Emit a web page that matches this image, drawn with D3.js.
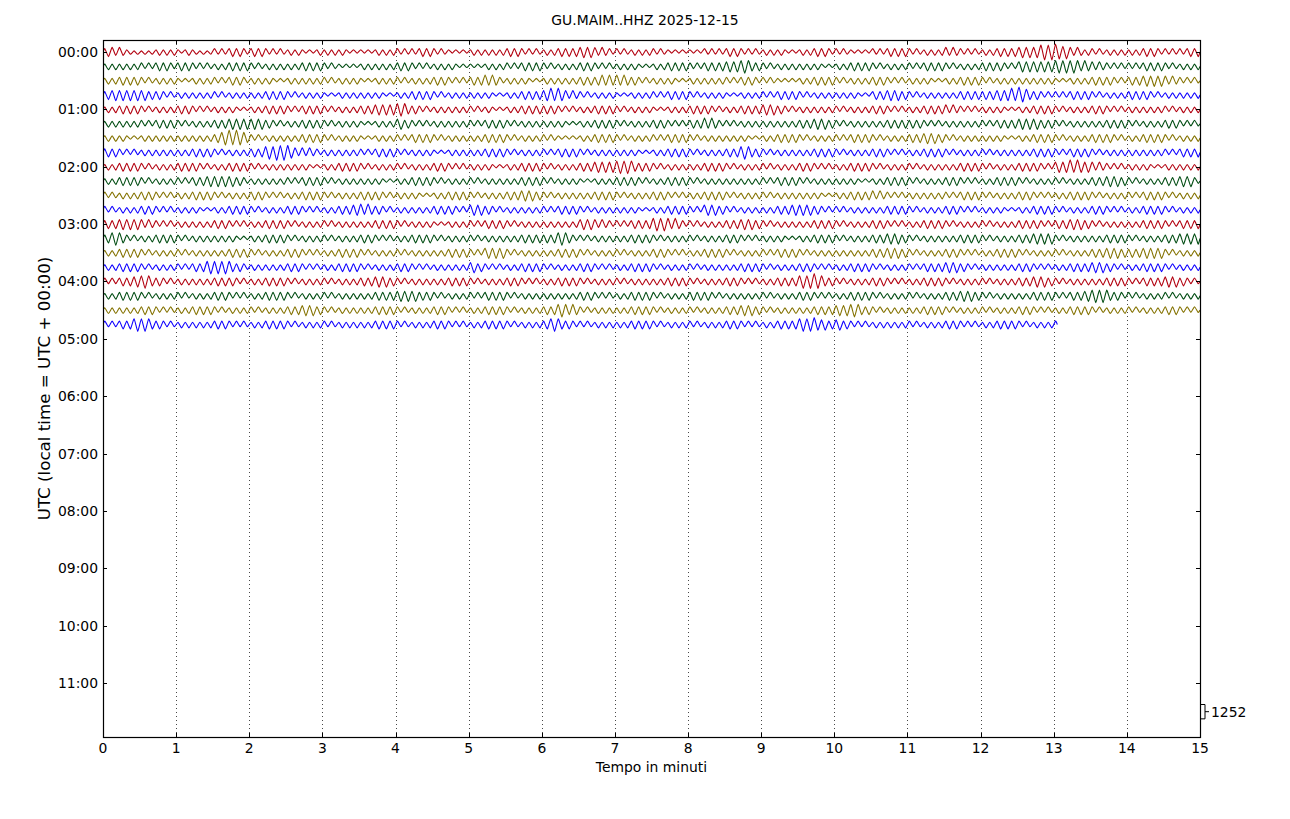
<!DOCTYPE html>
<html><head><meta charset="utf-8">
<script src="https://cdn.jsdelivr.net/npm/d3@7"></script>
<style>
body{margin:0;background:#fff}
svg{display:block}
text{font-family:"DejaVu Sans",sans-serif;fill:#000}
</style>
</head><body>
<svg id="chart" width="1290" height="819"></svg>
<script>
// ---------------- DATA ----------------
const chartTitle = "GU.MAIM..HHZ 2025-12-15";
const xLabel = "Tempo in minuti";
const yLabel = "UTC (local time = UTC + 00:00)";
const xTickLabels = ["0","1","2","3","4","5","6","7","8","9","10","11","12","13","14","15"];
const hourLabels = ["00:00","01:00","02:00","03:00","04:00","05:00","06:00","07:00","08:00","09:00","10:00","11:00"];
const traceStartMinutes = [0,15,30,45,60,75,90,105,120,135,150,165,180,195,210,225,240,255,270,285];
const traceEndMinute = [15,15,15,15,15,15,15,15,15,15,15,15,15,15,15,15,15,15,15,13.05];
const scaleBarCounts = 1252;
const peakUnitCounts = 100;   // each digit = successive alternating peak amplitude, in 100 counts
const traceAmps = [
"3443432212 1212232323 2123221212 3232343432 3434323232 2323212123 2323232121 2121232323 3232323434 3232212121 2323232323 3434323232 2323343434 4545434332 3232232323 3232212121 2121323232 3434323232 2323232121 2323343432 3232212121 3232343434 3232232323 4343323232 2323343434 4545456767 7656434323 3232232323 2323343432 3232323434",
"2323232323 3232343432 3434323232 2323343434 3232232323 2323343434 3232212121 2323232323 3434323232 2323232121 2121232323 3232343434 3232232323 3434323232 2323232121 2323343434 3232343434 4545565434 3232232323 2323232121 2323343434 3232232323 3232343434 3232232323 3434343232 4545454545 5656565454 4343323232 3232343434 3232232323",
"2323343434 3232232323 2121232323 3232343432 2323232121 2323232323 3232232323 2121232323 3232232323 3434323232 3434545432 2323232121 2323232323 3434345454 5454343232 2323232121 2323232323 3232343432 3232212121 2323343434 3232232323 3434323232 2323232121 2323343434 3232232323 2323232323 2121232323 3434343232 3434454545 4343323232",
"3445454545 4534343232 2323232323 3232232323 2323343434 3232232323 2121232323 2323232121 2323343434 3232232323 2323232121 2323343434 4565654343 3232232323 2121232323 3232343434 3232232323 2121232323 3232343434 3232232323 2323232121 3434454534 3232232323 2323343434 3434454565 7654343232 3232343434 3232232323 3434343232 2323232323",
"2323343434 3232232323 3434323232 2323232121 2323343434 3232343434 3232232323 3434454545 5654343232 2323232323 3232232121 2323343434 3434323232 2323343434 3232232323 2121232323 3434343232 2323343434 4545343232 2323232323 3232232323 3434323232 2323343434 4343323232 2323232121 2323343434 3232232323 3434323232 2323232323 3232232323",
"2323232323 3232343434 3232232323 3434454545 4545343232 2323343434 3232232323 2121232323 4534323232 2323232323 3232343434 3232232323 2323232121 2323343434 3232232323 3434323232 3434545432 3232232323 2323232323 3434454534 3232232323 2323343434 3434323232 2323232323 3232343434 4545453434 3232232323 2323343434 3232232323 3434323232",
"2323232121 2323232323 2323232323 3456767654 3232232323 2323343434 3232232323 2121232323 3232343434 3232232323 2323343434 3232232323 3232212121 2323343434 3232232323 3232343434 3232232323 2323232121 2323343434 3232232323 3232343434 3232232323 3434454534 3232232323 2323232121 2323343434 3232232323 3434343232 2323343434 3232232323",
"3434323232 2323232323 2323343434 3232232323 3434565767 6543434332 2323232323 3232343434 3232232323 2121232323 2323343434 3232232323 3232343434 3232232323 2323232121 2323343434 3232232323 3434565434 3232232323 2323343434 3232232323 3434323232 2323343434 3232232323 3232232323 2323343434 3232343434 3232232323 2323232323 3232343434",
"2323343434 3232232323 3434343232 2323343434 3232232323 2323232121 2323343434 3232232323 3232232323 3434323232 2323232121 2323343434 3232232323 3434454545 5656543434 3232232323 2323343434 3232232323 3232232323 3434323232 2323343434 3232232323 3232232323 2323343434 3232232323 3434343232 4545656545 4343323232 2323232121 2323232323",
"2323343434 3232232323 3232343445 4545453432 2323232323 3232343434 3232232323 2323232121 2323343434 3232232323 3232232323 2323343434 3232232323 2121232323 3434343232 2323343434 3232232323 2323232323 3232343434 3232232323 2323232121 2323343434 3232232323 3434323232 2323343434 3232232323 3232232323 3434454534 3232232323 3434454532",
"3232232323 3434323232 2323343434 3232232323 3434323232 2323343434 3232232323 3434343232 2323232121 2323343434 3232232323 3434454534 3232232323 2323343434 3232232323 3434323232 2323343434 3232232323 3232232323 2323232121 2323343434 4343323232 2323232323 3232343434 3232232323 3434323232 2323343434 3232232323 3232343434 3232232323",
"3232232323 3434323232 2323232121 2323343434 3232232323 3434323232 2323343445 5454343232 2323232323 3434343232 4545343232 2323232323 3232343434 3232232323 2323232121 2323343434 3232454534 3232232323 2323343445 4545343232 3232232323 2323343434 3232232323 3434323232 2323232121 2323343434 3232232323 3434323232 2323343434 3232232323",
"3434454545 4343323232 2323232323 3434323232 2323343434 3232232323 3232232323 2323343434 3232232323 2121232323 3232343434 3232232323 2323232323 4545434332 3232343434 5656545432 3232232323 3434454534 3232232323 2323343434 3232232323 3434323232 2323343434 3232232323 3232232323 3434343232 3434454534 3232232323 2323343434 3232343434",
"3456543232 2323343434 3232232323 2323232121 2323343434 3232232323 3232232323 3434323232 2323343434 3232232323 3232232323 2323343434 3434565432 3232232323 2323343434 3232232323 3232232323 3434323232 2323232121 2323343434 3232232323 3434454534 3232232323 2323343434 3232232323 3434454545 3232232323 2323343434 3232232323 3434454545",
"2323343434 3232232323 3232232323 2323343434 3232232323 3434323232 2323343434 3232232323 3232232323 2323343434 3232454545 3232232323 2323343434 3232232323 3232232323 3434323232 2323343434 3232232323 3232343434 3232232323 2323232323 3434454534 3232232323 3434323232 2323343434 3232232323 3232232323 3434454534 3434454545 3232232323",
"2323343434 3232232323 3232343456 5656543432 2323232323 3434323232 2323343434 3232232323 3434323232 2323232323 4534323232 2323343434 3232232323 3434323232 2323343434 3232232323 3232232323 2323343434 3232232323 3434323232 2323343434 3232232323 3232343434 4545343232 2323232323 3434323232 2323343434 4545343232 2323343434 3232232323",
"3232343445 5654343232 2323232323 3434343232 2323343434 3232232323 3232232323 3434454534 3232232323 2323343434 3232232323 3434323232 2323343434 3232232323 3232232323 2323343434 3232232323 3434323232 2323343434 5656765434 3232232323 3434323232 2323343434 3232232323 3232232323 3434454534 3232232323 2323343434 3232343434 4545343232",
"2323343434 3232232323 3232232323 3434323232 2323343434 3232232323 3232232323 2323343434 4545453434 3232232323 3232343434 3232232323 2323232323 3434323232 2323343434 3232232323 3434343232 2323232323 3232232323 3434323232 2323343434 3232232323 3232232323 3434454534 3232232323 2323343434 3232343445 5656543432 3232232323 3232232323",
"2323232323 3434323232 2323343434 3232232323 3232232323 3434454534 3232232323 2323343434 3232232323 3434323232 2323343434 3232232323 3434565454 3232232323 2323343434 3232232323 3232232323 3434454534 3232232323 2323343434 4545565434 3232232323 2323343434 3232232323 3232232323 3434323232 2323343434 3232232323 3232232323 3434323232",
"3232343456 5654343232 2323232323 3434323232 2323343434 3232232323 3232232323 2323343434 3232232323 3434323232 2323343434 3232232323 3456543432 3232232323 2323343434 3232232323 3232232323 3434323232 2323343434 5656654534 4534323232 2323232323 3232232323 3434323232 2323343434 3232232323 3"
];
const traceColors = ["#B2000F","#004C12","#847200","#0E01FF"];

// ---------------- LAYOUT ----------------
const W = 1290, H = 819;
const plot = {left:103, right:1200, top:40, bottom:737};
const svg = d3.select("#chart");

const x = d3.scaleLinear().domain([0,15]).range([plot.left, plot.right]);
// minute-of-day -> baseline pixel
const yRow = d3.scaleLinear().domain([0,660]).range([52,683]);
const amp = d3.scaleLinear().domain([0,scaleBarCounts]).range([0, yRow(15)-yRow(0)]);

svg.append("defs").append("clipPath").attr("id","clip")
  .append("rect").attr("x",plot.left).attr("y",plot.top)
  .attr("width",plot.right-plot.left).attr("height",plot.bottom-plot.top);

// gridlines
svg.append("g").selectAll("line").data(d3.range(1,15)).join("line")
  .attr("x1",d=>Math.round(x(d))+0.5).attr("x2",d=>Math.round(x(d))+0.5)
  .attr("y1",plot.top).attr("y2",plot.bottom)
  .attr("stroke","#333").attr("stroke-width",0.9).attr("stroke-dasharray","1,3");

// traces
const traces = traceAmps.map((s,i)=>{
  const digits = s.replace(/\s/g,"").split("").map(Number);
  const n = digits.length, step = traceEndMinute[i]/n;
  const pts = [{t:0,v:0}];
  digits.forEach((a,k)=>pts.push({t:(k+0.5)*step, v:(k%2?-1:1)*a*peakUnitCounts}));
  pts.push({t:traceEndMinute[i], v:0});
  return {start:traceStartMinutes[i], pts, color:traceColors[i%4]};
});
const gT = svg.append("g").attr("clip-path","url(#clip)");
traces.forEach(tr=>{
  const line = d3.line().x(d=>x(d.t)).y(d=>yRow(tr.start)-amp(d.v)).curve(d3.curveCardinal.tension(0.55));
  gT.append("path").attr("d",line(tr.pts)).attr("fill","none")
    .attr("stroke",tr.color).attr("stroke-width",1.1);
});

// frame
svg.append("rect").attr("x",plot.left+0.5).attr("y",plot.top+0.5)
  .attr("width",plot.right-plot.left).attr("height",plot.bottom-plot.top)
  .attr("fill","none").attr("stroke","#000").attr("stroke-width",1.2);

// x ticks (inside, bottom and top)
const gx = svg.append("g");
xTickLabels.forEach((lab,i)=>{
  const px = Math.round(x(i))+0.5;
  gx.append("line").attr("x1",px).attr("x2",px).attr("y1",plot.bottom).attr("y2",plot.bottom-4).attr("stroke","#000");
  gx.append("line").attr("x1",px).attr("x2",px).attr("y1",plot.top).attr("y2",plot.top+4).attr("stroke","#000");
  gx.append("text").attr("x",x(i)).attr("y",753).attr("text-anchor","middle").attr("font-size","13.9px").text(lab);
});
// y ticks (inside, left and right)
const gy = svg.append("g");
hourLabels.forEach((lab,i)=>{
  const py = Math.round(yRow(i*60))+0.5;
  gy.append("line").attr("x1",plot.left).attr("x2",plot.left+4).attr("y1",py).attr("y2",py).attr("stroke","#000");
  gy.append("line").attr("x1",plot.right).attr("x2",plot.right-4).attr("y1",py).attr("y2",py).attr("stroke","#000");
  gy.append("text").attr("x",98).attr("y",yRow(i*60)).attr("dy","0.36em").attr("text-anchor","end").attr("font-size","13.9px").text(lab);
});

// scale bar
const sbMid = yRow(690), sbH = amp(scaleBarCounts);
svg.append("path").attr("d",`M${plot.right},${sbMid-sbH/2} H${plot.right+5} V${sbMid+sbH/2} H${plot.right}`)
  .attr("fill","none").attr("stroke","#000").attr("stroke-width",1);
svg.append("line").attr("x1",plot.right+5).attr("x2",plot.right+9).attr("y1",sbMid).attr("y2",sbMid).attr("stroke","#000");
svg.append("text").attr("x",plot.right+11).attr("y",sbMid).attr("dy","0.36em").attr("font-size","13.9px").text(String(scaleBarCounts));

// titles
svg.append("text").attr("x",W/2).attr("y",25).attr("text-anchor","middle").attr("font-size","13.9px").text(chartTitle);
svg.append("text").attr("x",(plot.left+plot.right)/2).attr("y",772).attr("text-anchor","middle").attr("font-size","13.9px").text(xLabel);
svg.append("text").attr("transform",`translate(50,${(plot.top+plot.bottom)/2}) rotate(-90)`)
  .attr("text-anchor","middle").attr("font-size","16.7px").text(yLabel);
</script>
</body></html>
